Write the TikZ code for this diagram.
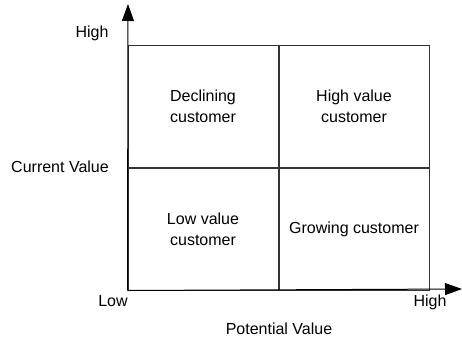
\documentclass[tikz,border=0pt]{standalone}
\usepackage{fontspec}
\setmainfont{Liberation Sans}
\usepackage{tikz}
\usetikzlibrary{arrows.meta,positioning}
\tikzset{
  every picture/.style={font=\fontsize{16}{21}\selectfont, line width=1pt},
  cell/.style={draw=black!80, align=center, inner sep=0pt, minimum width=150pt, minimum height=122pt},
  axis/.style={draw=black, -{Triangle[length=17pt, width=12pt]}},
  tick/.style={anchor=base, inner sep=0pt},
}

\begin{document}
\begin{tikzpicture}[x=1pt, y=-1pt]
  \useasboundingbox (0,0) rectangle (462,340);
  % the four quadrants
  \node[cell] (declining) at (203,106) {Declining\\customer};
  \node[cell, right=0pt of declining] (highval) {High value\\customer};
  \node[cell, below=0pt of declining] (lowval) {Low value\\customer};
  \node[cell, right=0pt of lowval] (growing) {Growing customer};
  % axes
  \coordinate (origin) at (lowval.south west);
  \coordinate (ytip) at (128,4);
  \coordinate (xtip) at (462,289);
  \draw[axis] (origin) -- (ytip);
  \draw[axis] (origin) -- (xtip);
  % axis labels
  \node[tick] (yhigh) at (92,37) {High};
  \node[tick] (ylabel) at (60,172) {Current Value};
  \node[tick] (xlow) at (113,306) {Low};
  \node[tick] (xhigh) at (430,306) {High};
  \node[tick] (xlabel) at (279,334) {Potential Value};
\end{tikzpicture}
\end{document}
